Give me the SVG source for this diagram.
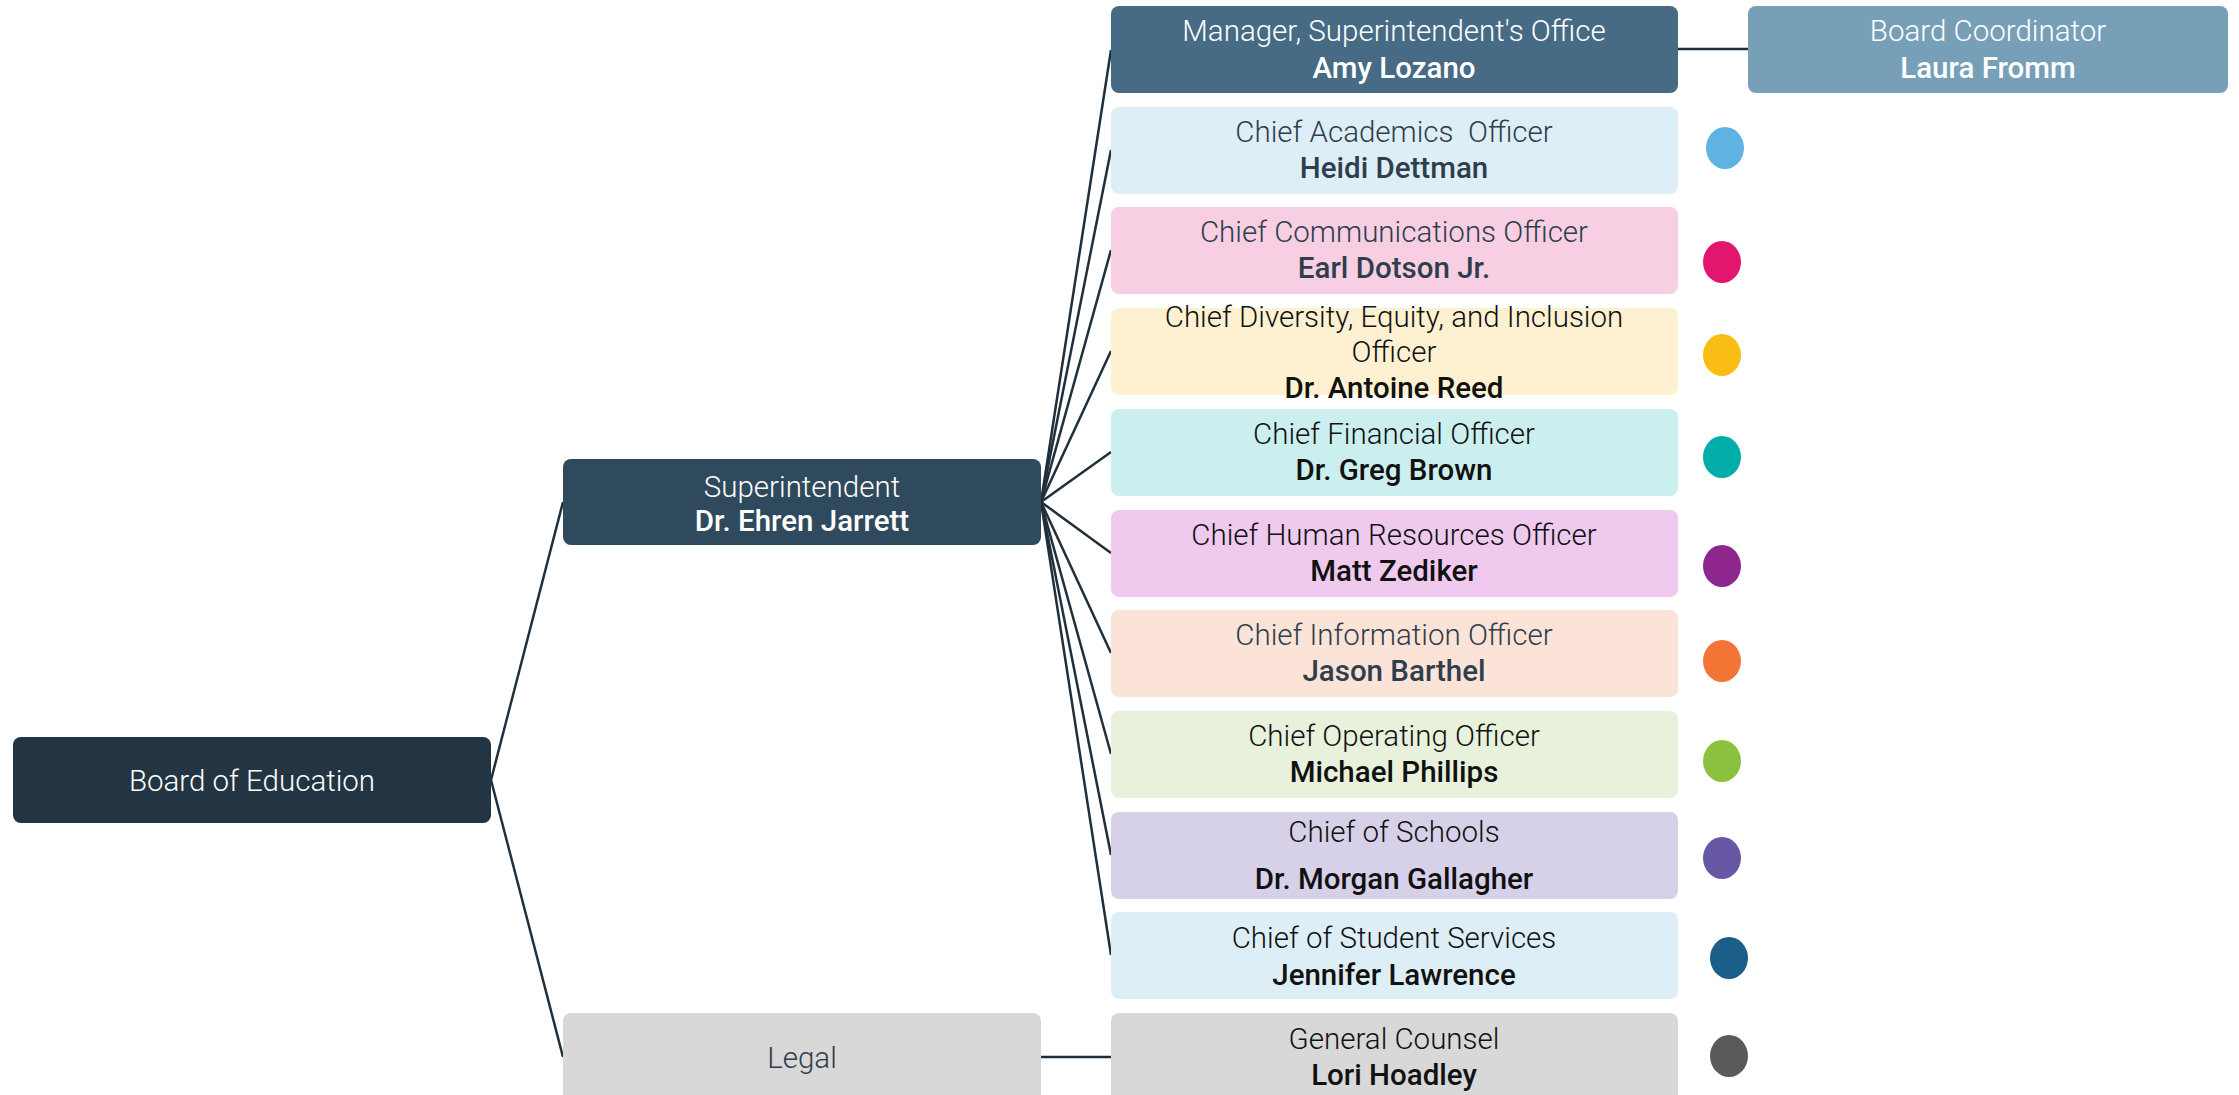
<svg xmlns="http://www.w3.org/2000/svg" width="2239" height="1095" viewBox="0 0 2239 1095">
<style>
.t{font-family:Roboto,"Liberation Sans",sans-serif;font-size:29.5px;font-weight:300;text-anchor:middle}
.n{font-family:Roboto,"Liberation Sans",sans-serif;font-size:29.5px;font-weight:500;text-anchor:middle}
.w{fill:#ffffff}
.s{fill:#2e3e4c}
.k{fill:#111111}
.c{stroke:#1f2f3b;stroke-width:2.5;fill:none}
</style>
<rect width="2239" height="1095" fill="#ffffff"/>
<g id="connectors">
<line class="c" x1="491" y1="780" x2="563" y2="502"/>
<line class="c" x1="491" y1="780" x2="563" y2="1057"/>
<line class="c" x1="1041" y1="502" x2="1111" y2="50"/>
<line class="c" x1="1041" y1="502" x2="1111" y2="150"/>
<line class="c" x1="1041" y1="502" x2="1111" y2="250"/>
<line class="c" x1="1041" y1="502" x2="1111" y2="351"/>
<line class="c" x1="1041" y1="502" x2="1111" y2="452"/>
<line class="c" x1="1041" y1="502" x2="1111" y2="553"/>
<line class="c" x1="1041" y1="502" x2="1111" y2="653"/>
<line class="c" x1="1041" y1="502" x2="1111" y2="754"/>
<line class="c" x1="1041" y1="502" x2="1111" y2="855"/>
<line class="c" x1="1041" y1="502" x2="1111" y2="955"/>
<line class="c" x1="1678" y1="49" x2="1748" y2="49"/>
<line class="c" x1="1041" y1="1057" x2="1111" y2="1057"/>
</g>
<g id="board">
<rect x="13" y="737" width="478" height="86" rx="8" fill="#233543"/>
<text class="t w" x="252" y="791">Board of Education</text>
</g>
<g id="superintendent">
<rect x="563" y="459" width="478" height="86" rx="8" fill="#2f4a5c"/>
<text class="t w" x="802" y="497">Superintendent</text>
<text class="n w" x="802" y="531">Dr. Ehren Jarrett</text>
</g>
<g id="legal">
<rect x="563" y="1013" width="478" height="100" rx="8" fill="#d8d8d8"/>
<text class="t s" x="802" y="1068">Legal</text>
</g>
<g id="manager">
<rect x="1111" y="6" width="567" height="87" rx="8" fill="#476b84"/>
<text class="t w" x="1394" y="41">Manager, Superintendent's Office</text>
<text class="n w" x="1394" y="78">Amy Lozano</text>
</g>
<g id="board-coordinator">
<rect x="1748" y="6" width="480" height="87" rx="8" fill="#789fb8"/>
<text class="t w" x="1988" y="41">Board Coordinator</text>
<text class="n w" x="1988" y="78">Laura Fromm</text>
</g>
<g id="academics">
<rect x="1111" y="107" width="567" height="87" rx="8" fill="#deeef7"/>
<text class="t s" x="1394" y="142" xml:space="preserve">Chief Academics  Officer</text>
<text class="n s" x="1394" y="178">Heidi Dettman</text>
<ellipse cx="1725" cy="148" rx="19" ry="21" fill="#5fb3e3"/>
</g>
<g id="communications">
<rect x="1111" y="207" width="567" height="87" rx="8" fill="#f8cfe2"/>
<text class="t s" x="1394" y="242">Chief Communications Officer</text>
<text class="n s" x="1394" y="278">Earl Dotson Jr.</text>
<ellipse cx="1722" cy="262" rx="19" ry="21" fill="#e3166f"/>
</g>
<g id="dei">
<rect x="1111" y="308" width="567" height="87" rx="8" fill="#fef1d1"/>
<text class="t k" x="1394" y="327">Chief Diversity, Equity, and Inclusion</text>
<text class="t k" x="1394" y="362">Officer</text>
<text class="n k" x="1394" y="398">Dr. Antoine Reed</text>
<ellipse cx="1722" cy="355" rx="19" ry="21" fill="#f9bd13"/>
</g>
<g id="cfo">
<rect x="1111" y="409" width="567" height="87" rx="8" fill="#cbefee"/>
<text class="t k" x="1394" y="444">Chief Financial Officer</text>
<text class="n k" x="1394" y="480">Dr. Greg Brown</text>
<ellipse cx="1722" cy="457" rx="19" ry="21" fill="#00ada9"/>
</g>
<g id="hr">
<rect x="1111" y="510" width="567" height="87" rx="8" fill="#efcaee"/>
<text class="t k" x="1394" y="545">Chief Human Resources Officer</text>
<text class="n k" x="1394" y="581">Matt Zediker</text>
<ellipse cx="1722" cy="566" rx="19" ry="21" fill="#8e268d"/>
</g>
<g id="cio">
<rect x="1111" y="610" width="567" height="87" rx="8" fill="#fce3d7"/>
<text class="t s" x="1394" y="645">Chief Information Officer</text>
<text class="n s" x="1394" y="681">Jason Barthel</text>
<ellipse cx="1722" cy="661" rx="19" ry="21" fill="#f37535"/>
</g>
<g id="coo">
<rect x="1111" y="711" width="567" height="87" rx="8" fill="#e7f1db"/>
<text class="t k" x="1394" y="746">Chief Operating Officer</text>
<text class="n k" x="1394" y="782">Michael Phillips</text>
<ellipse cx="1722" cy="761" rx="19" ry="21" fill="#8cc13f"/>
</g>
<g id="schools">
<rect x="1111" y="812" width="567" height="87" rx="8" fill="#d6d1e8"/>
<text class="t k" x="1394" y="842">Chief of Schools</text>
<text class="n k" x="1394" y="889">Dr. Morgan Gallagher</text>
<ellipse cx="1722" cy="858" rx="19" ry="21" fill="#6757a5"/>
</g>
<g id="student-services">
<rect x="1111" y="912" width="567" height="87" rx="8" fill="#deeef7"/>
<text class="t k" x="1394" y="948">Chief of Student Services</text>
<text class="n k" x="1394" y="985">Jennifer Lawrence</text>
<ellipse cx="1729" cy="958" rx="19" ry="21" fill="#1b5e87"/>
</g>
<g id="general-counsel">
<rect x="1111" y="1013" width="567" height="100" rx="8" fill="#d8d8d8"/>
<text class="t k" x="1394" y="1049">General Counsel</text>
<text class="n k" x="1394" y="1085">Lori Hoadley</text>
<ellipse cx="1729" cy="1056" rx="19" ry="21" fill="#5a5a5a"/>
</g>
</svg>
